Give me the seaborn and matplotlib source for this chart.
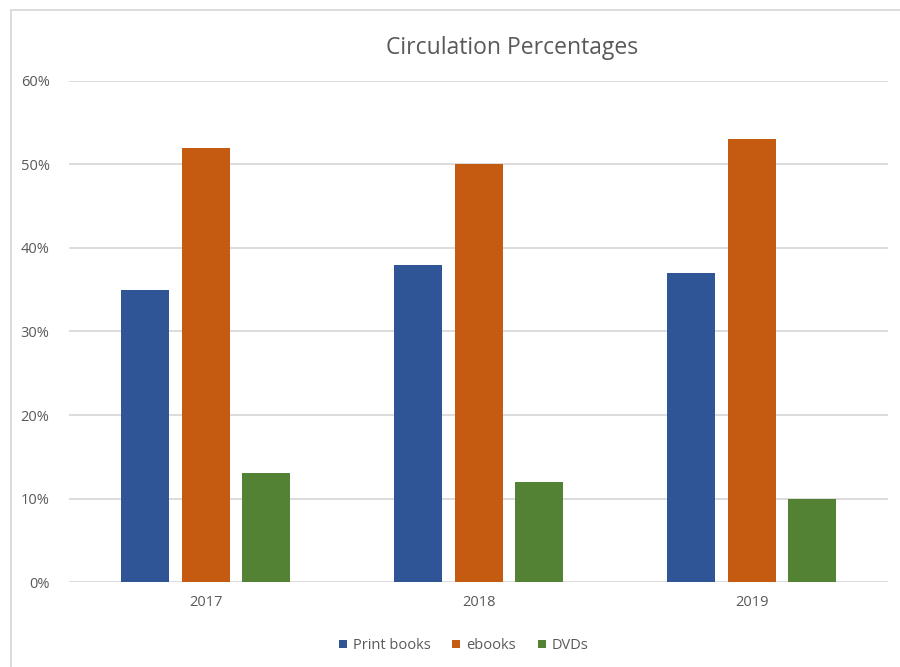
import pandas as pd
import seaborn as sns
import matplotlib.pyplot as plt
from matplotlib.ticker import PercentFormatter
from matplotlib.patches import Rectangle

# Datos
years = ["2017", "2018", "2019"]
print_books = [35, 38, 37]
ebooks = [52, 50, 53]
dvds = [13, 12, 10]
series = ["Print books", "ebooks", "DVDs"]
colors = ["#2F5597", "#C55A11", "#548235"]

df = pd.DataFrame({
    "year": years * 3,
    "kind": [s for s in series for _ in years],
    "value": print_books + ebooks + dvds,
})

sns.set_style("white")
plt.rcParams["font.family"] = ["Open Sans", "DejaVu Sans"]

fig = plt.figure(figsize=(9, 6.67), dpi=100)
ax = fig.add_axes([0.0767, 0.1274, 0.91, 0.7512])

sns.barplot(data=df, x="year", y="value", hue="kind", hue_order=series,
            palette=colors, width=0.66, gap=0.2, saturation=1, linewidth=0, ax=ax)

ax.set_ylim(0, 60)
ax.set_yticks(range(0, 61, 10))
ax.yaxis.set_major_formatter(PercentFormatter(decimals=0))
ax.grid(axis="y", color="#D9D9D9", linewidth=1.3)
ax.set_axisbelow(True)
sns.despine(ax=ax, left=True, bottom=True)
ax.tick_params(axis="both", length=0, labelsize=10.5, labelcolor="#595959")
ax.tick_params(axis="y", pad=14)
ax.tick_params(axis="x", pad=9)
ax.set_xlabel("")
ax.set_ylabel("")

fig.text(0.569, 0.928, "Circulation Percentages", ha="center", va="center",
         fontsize=16.5, color="#595959")

handles, labels = ax.get_legend_handles_labels()
ax.legend_.remove()
fig.legend(handles, labels, loc="center", bbox_to_anchor=(0.515, 0.032), ncol=3,
           frameon=False, fontsize=10.5, labelcolor="#595959",
           handlelength=0.55, handleheight=0.55, handletextpad=0.4, columnspacing=1.5)

# borde del area del grafico (recortado a derecha y abajo)
fig.add_artist(Rectangle((11 / 900, -0.2), 2, 1.2 - 10 / 667, transform=fig.transFigure,
                         fill=False, edgecolor="#D9D9D9", linewidth=1.3))

fig.savefig("out.png", dpi=100)
